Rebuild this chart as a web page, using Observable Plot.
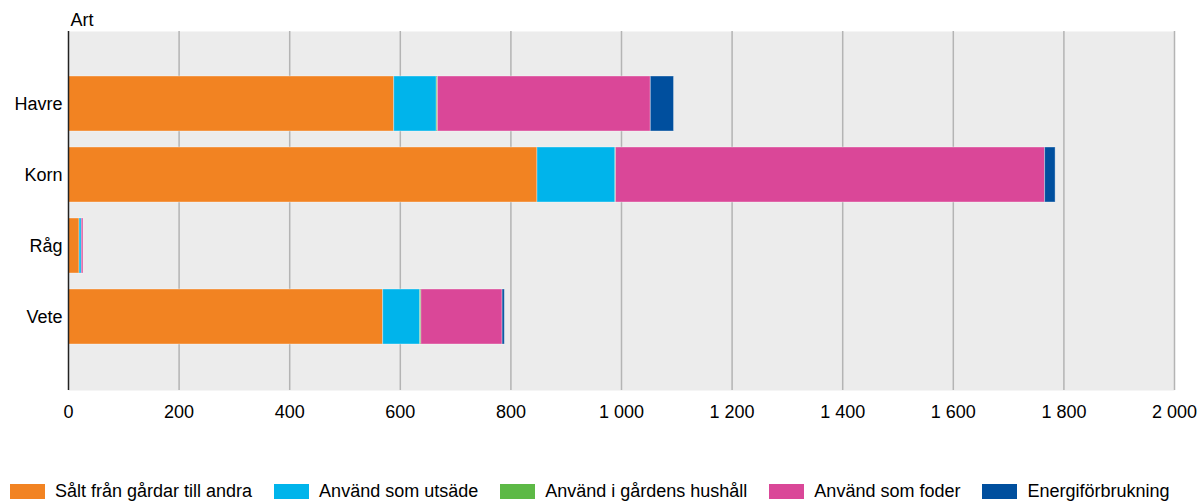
<!DOCTYPE html>
<html>
<head>
<meta charset="utf-8">
<script src="https://cdn.jsdelivr.net/npm/d3@7"></script>
<script src="https://cdn.jsdelivr.net/npm/@observablehq/plot@0.6"></script>
<style>
  html, body { margin: 0; padding: 0; background: #fff; }
  body { width: 1198px; height: 502px; overflow: hidden; font-family: "Liberation Sans", Arial, sans-serif; }
  #legend { display: flex; align-items: center; margin-top: 41px; padding-left: 10px; font-size: 18px; line-height: 21px; color: #000; white-space: nowrap; }
  .item { display: flex; align-items: center; margin-right: 22px; }
  .sw { width: 35px; height: 15px; margin-right: 10px; }
</style>
</head>
<body>
<div id="chart"></div>
<div id="legend"></div>
<script>
const categories = ["Havre", "Korn", "Råg", "Vete"];
const seriesNames = ["Sålt från gårdar till andra", "Använd som utsäde", "Använd i gårdens hushåll", "Använd som foder", "Energiförbrukning"];
const seriesColors = ["#f28322", "#00b4eb", "#5db946", "#da4798", "#004f9e"];
const salt    = [589, 848, 20, 569];
const utsade  = [77, 141, 4, 67];
const hushall = [2, 1, 0, 2];
const foder   = [385, 776, 3, 147];
const energi  = [42, 19, 0, 4];
const xTicks = [0, 200, 400, 600, 800, 1000, 1200, 1400, 1600, 1800, 2000];

const seriesValues = [salt, utsade, hushall, foder, energi];
const data = [];
seriesNames.forEach((s, si) => {
  categories.forEach((c, ci) => {
    data.push({art: c, serie: s, value: seriesValues[si][ci]});
  });
});

const fmt = d => d3.format(",")(d).replace(/,/g, " ");

const chart = Plot.plot({
  width: 1198,
  height: 440,
  marginTop: 31,
  marginBottom: 50,
  marginLeft: 68,
  marginRight: 24,
  style: {fontFamily: "'Liberation Sans', Arial, sans-serif", fontSize: "18px", color: "#000", background: "#fff"},
  x: {domain: [0, 2000], ticks: xTicks, tickFormat: fmt, label: null, tickSize: 0, tickPadding: 15},
  y: {domain: categories, paddingInner: 0.22, paddingOuter: 0.61, label: null, tickSize: 0, tickPadding: 6},
  color: {domain: seriesNames, range: seriesColors},
  marks: [
    Plot.frame({fill: "#ececec", stroke: null}),
    Plot.gridX(xTicks.filter(d => d > 0), {stroke: "#b4b4b4", strokeOpacity: 1, strokeWidth: 1.5}),
    Plot.barX(data, Plot.stackX({x: "value", y: "art", fill: "serie", stroke: "#fff", strokeOpacity: 0.35, strokeWidth: 1})),
    Plot.ruleX([0], {stroke: "#222", strokeWidth: 1.5}),
    Plot.text(["Art"], {frameAnchor: "top-left", dx: 2, dy: -6, lineAnchor: "bottom", textAnchor: "start", fontSize: 18, fill: "#000"})
  ]
});
document.getElementById("chart").appendChild(chart);

const legend = document.getElementById("legend");
seriesNames.forEach((s, i) => {
  const it = document.createElement("div");
  it.className = "item";
  const sw = document.createElement("span");
  sw.className = "sw";
  sw.style.background = seriesColors[i];
  const t = document.createElement("span");
  t.textContent = s;
  it.appendChild(sw);
  it.appendChild(t);
  legend.appendChild(it);
});
</script>
</body>
</html>
